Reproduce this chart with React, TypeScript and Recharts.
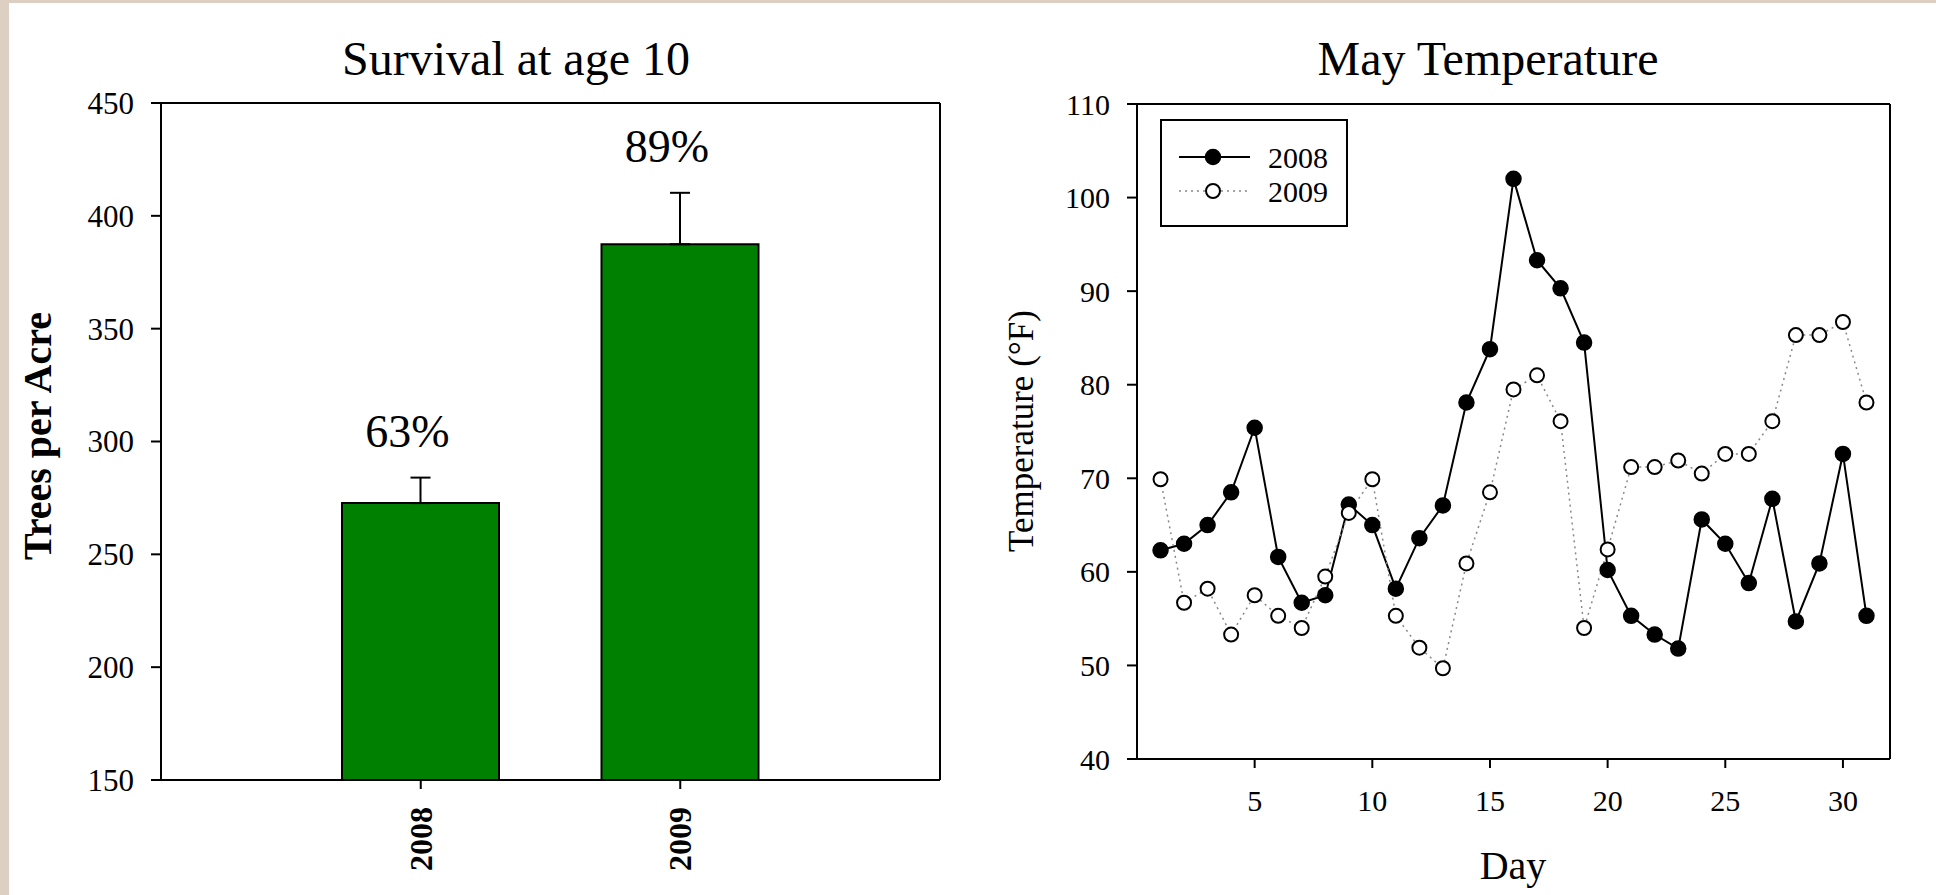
import React from "react";
import {
  BarChart,
  Bar,
  ErrorBar,
  LabelList,
  LineChart,
  Line,
  XAxis,
  YAxis,
  CartesianGrid,
  Legend,
} from "recharts";

document.body.style.margin = "0";

const FONT = '"Liberation Serif", "Times New Roman", serif';

// left panel: survival
const survivalYears = ["2008", "2009"];
const treesPerAcre = [272.7, 387.4];
const treesError = [11.3, 22.8];
const survivalPct = ["63%", "89%"];
const treeTicks = [150, 200, 250, 300, 350, 400, 450];

// right panel: May temperature
const days = [
  1, 2, 3, 4, 5, 6, 7, 8, 9, 10, 11, 12, 13, 14, 15, 16, 17, 18, 19, 20, 21, 22, 23, 24, 25, 26, 27,
  28, 29, 30, 31,
];
const temp2008 = [
  62.3, 63.0, 65.0, 68.5, 75.4, 61.6, 56.7, 57.5, 67.2, 65.0, 58.2, 63.6, 67.1, 78.1, 83.8, 102.0,
  93.3, 90.3, 84.5, 60.2, 55.3, 53.3, 51.8, 65.6, 63.0, 58.8, 67.8, 54.7, 60.9, 72.6, 55.3,
];
const temp2009 = [
  69.9, 56.7, 58.2, 53.3, 57.5, 55.3, 54.0, 59.5, 66.3, 69.9, 55.3, 51.9, 49.7, 60.9, 68.5, 79.5,
  81.0, 76.1, 54.0, 62.4, 71.2, 71.2, 71.9, 70.5, 72.6, 72.6, 76.1, 85.3, 85.3, 86.7, 78.1,
];
const dayTicks = [5, 10, 15, 20, 25, 30];
const tempTicks = [40, 50, 60, 70, 80, 90, 100, 110];

const survivalData = survivalYears.map((year, i) => ({
  year,
  trees: treesPerAcre[i],
  err: [0, treesError[i]],
  pct: survivalPct[i],
}));

const tempData = days.map((day, i) => ({
  day,
  t2008: temp2008[i],
  t2009: temp2009[i],
}));

const axisStyle = { stroke: "#000", strokeWidth: 2 };
const serif = { fontFamily: FONT };

const frameTop = ({ offset }: any) => (offset ? [offset.top] : []);
const frameRight = ({ offset }: any) => (offset ? [offset.left + offset.width] : []);

function YearTick(props: any) {
  const { x, y, payload } = props;
  return (
    <g transform={`translate(${x},${y})`}>
      <text
        transform="rotate(-90)"
        x={-18}
        y={0}
        dy={11}
        textAnchor="end"
        fill="#000"
        fontSize={32}
        fontWeight="bold"
        fontFamily={FONT}
        style={serif}
      >
        {payload.value}
      </text>
    </g>
  );
}

// numeric tick in the serif face; left axes anchor at the end, bottom axes in the middle
function NumTick(props: any) {
  const { x, y, payload, size, side } = props;
  const left = side === "left";
  return (
    <text
      x={x}
      y={y}
      dy={left ? "0.35em" : "0.71em"}
      textAnchor={left ? "end" : "middle"}
      fill="#000"
      fontSize={size}
      fontFamily={FONT}
      style={serif}
    >
      {payload.value}
    </text>
  );
}

function PctLabel(props: any) {
  const { index, value } = props;
  const vb = props.viewBox || props;
  const { x, y, width, height } = vb;
  const pxPerUnit = height / (treesPerAcre[index] - treeTicks[0]);
  const errTop = y - treesError[index] * pxPerUnit;
  return (
    <text
      x={x + width / 2 - 13}
      y={errTop - 31}
      textAnchor="middle"
      fill="#000"
      fontSize={46}
      fontFamily={FONT}
      style={serif}
    >
      {value}
    </text>
  );
}

function TempLegend(props: any) {
  const items = props.payload || [];
  return (
    <svg width={188} height={108}>
      <rect x={1} y={1} width={186} height={106} fill="#fff" stroke="#000" strokeWidth={2} />
      {items.map((entry: any, i: number) => {
        const cy = 38 + i * 34;
        const filled = i === 0;
        return (
          <g key={entry.value}>
            <line
              x1={19}
              x2={90}
              y1={cy}
              y2={cy}
              stroke={filled ? "#000" : "#888"}
              strokeWidth={filled ? 2 : 1.5}
              strokeDasharray={filled ? undefined : "2 4"}
            />
            <circle
              cx={53}
              cy={cy}
              r={filled ? 7.5 : 7}
              fill={filled ? "#000" : "#fff"}
              stroke="#000"
              strokeWidth={filled ? 1.5 : 2}
            />
            <text
              x={108}
              y={cy}
              dy="0.35em"
              fontSize={30}
              fontFamily={FONT}
              style={serif}
              fill="#000"
            >
              {entry.value}
            </text>
          </g>
        );
      })}
    </svg>
  );
}

function Caption({
  text,
  cx,
  top,
  size,
  bold,
  rotate,
}: {
  text: string;
  cx: number;
  top: number;
  size: number;
  bold?: boolean;
  rotate?: boolean;
}) {
  return (
    <div
      style={{
        position: "absolute",
        left: cx,
        top,
        transform: rotate ? "translate(-50%, -50%) rotate(-90deg)" : "translateX(-50%)",
        fontFamily: FONT,
        fontSize: size,
        fontWeight: bold ? "bold" : "normal",
        lineHeight: 1,
        whiteSpace: "nowrap",
        color: "#000",
      }}
    >
      {text}
    </div>
  );
}

export default function App() {
  return (
    <div
      style={{
        position: "relative",
        width: 1936,
        height: 895,
        overflow: "hidden",
        background: "#ddd0c2",
      }}
    >
      <div
        style={{ position: "absolute", left: 9, top: 3, right: 0, bottom: 0, background: "#fff" }}
      />

      <div style={{ position: "absolute", left: 0, top: 0 }}>
        <BarChart
          width={960}
          height={895}
          data={survivalData}
          margin={{ top: 103, right: 20, bottom: 55, left: 101 }}
        >
          <CartesianGrid
            stroke="#000"
            strokeWidth={2}
            horizontalCoordinatesGenerator={frameTop}
            verticalCoordinatesGenerator={frameRight}
          />
          <XAxis
            dataKey="year"
            padding={{ left: 130, right: 130 }}
            height={60}
            tickSize={9}
            tickMargin={0}
            axisLine={axisStyle}
            tickLine={axisStyle}
            tick={<YearTick />}
          />
          <YAxis
            width={60}
            domain={[150, 450]}
            ticks={treeTicks}
            allowDataOverflow
            tickSize={10}
            tickMargin={17}
            axisLine={axisStyle}
            tickLine={axisStyle}
            tick={<NumTick size={31} side="left" />}
          />
          <Bar
            dataKey="trees"
            fill="#008000"
            stroke="#000"
            strokeWidth={2}
            barSize={157}
            isAnimationActive={false}
          >
            <ErrorBar dataKey="err" width={10} stroke="#000" strokeWidth={2} direction="y" />
            <LabelList dataKey="pct" content={<PctLabel />} />
          </Bar>
        </BarChart>
      </div>

      <div style={{ position: "absolute", left: 960, top: 0 }}>
        <LineChart
          width={976}
          height={895}
          data={tempData}
          margin={{ top: 104, right: 46, bottom: 76, left: 117 }}
        >
          <CartesianGrid
            stroke="#000"
            strokeWidth={2}
            horizontalCoordinatesGenerator={frameTop}
            verticalCoordinatesGenerator={frameRight}
          />
          <XAxis
            type="number"
            dataKey="day"
            domain={[0, 32]}
            ticks={dayTicks}
            allowDataOverflow
            height={60}
            tickSize={9}
            tickMargin={22}
            axisLine={axisStyle}
            tickLine={axisStyle}
            tick={<NumTick size={30} side="bottom" />}
          />
          <YAxis
            width={60}
            domain={[40, 110]}
            ticks={tempTicks}
            allowDataOverflow
            tickSize={10}
            tickMargin={17}
            axisLine={axisStyle}
            tickLine={axisStyle}
            tick={<NumTick size={30} side="left" />}
          />
          <Legend
            layout="vertical"
            align="center"
            verticalAlign="middle"
            content={<TempLegend />}
            wrapperStyle={{ left: 200, top: 119, width: 188, height: 108 }}
          />
          <Line
            name="2008"
            dataKey="t2008"
            stroke="#000"
            strokeWidth={2}
            dot={{ r: 7.5, fill: "#000", stroke: "#000", strokeWidth: 1.5 }}
            activeDot={false}
            isAnimationActive={false}
          />
          <Line
            name="2009"
            dataKey="t2009"
            stroke="#888"
            strokeWidth={1.5}
            strokeDasharray="2 4"
            dot={{ r: 7, fill: "#fff", stroke: "#000", strokeWidth: 2, strokeDasharray: "" }}
            activeDot={false}
            isAnimationActive={false}
          />
        </LineChart>
      </div>

      <Caption text="Survival at age 10" cx={516} top={35} size={48} />
      <Caption text="May Temperature" cx={1488} top={35} size={48} />
      <Caption text="Trees per Acre" cx={38} top={436} size={40} bold rotate />
      <Caption text="Temperature (°F)" cx={1021} top={431} size={35} rotate />
      <Caption text="Day" cx={1513} top={846} size={40} />
    </div>
  );
}
